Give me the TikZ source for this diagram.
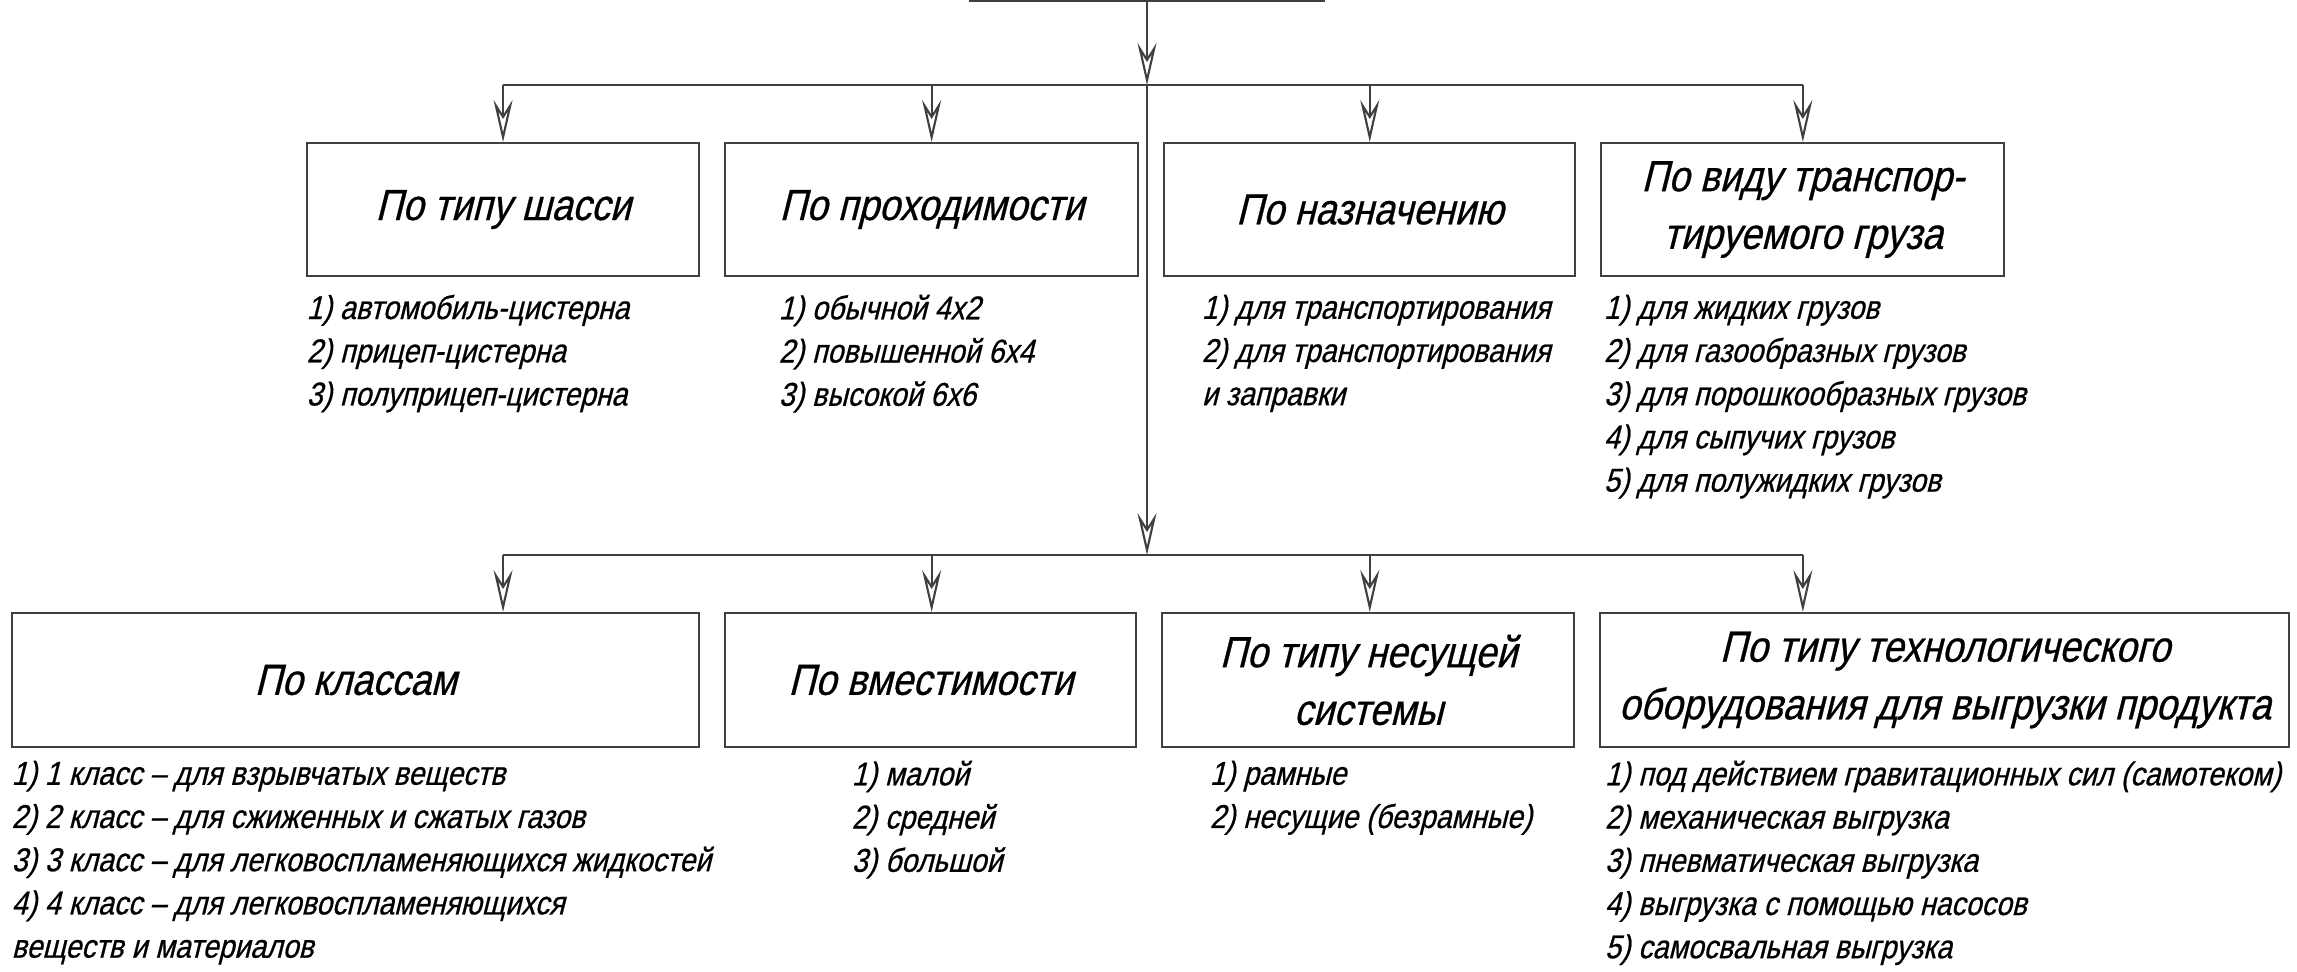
\documentclass[tikz,border=0pt]{standalone}
\usepackage{fontspec}
\setmainfont{Liberation Sans}[FakeStretch=0.86, FakeSlant=0.25, FakeBold=0.6]
\usepackage{tikz}
\usetikzlibrary{positioning, arrows.meta}
\tikzset{
    crit box/.style={rectangle, draw=black!75, line width=0.6pt, minimum height=1.33cm, align=center, inner sep=0pt, font=\fontsize{12.4}{16.4}\selectfont},
    item list/.style={align=left, inner sep=0pt, font=\fontsize{9.4}{12.3}\selectfont},
}

\begin{document}
\begin{tikzpicture}[x=0.1mm, y=-0.1mm, node distance=2.4mm]
\useasboundingbox (0,0) rectangle (2297,972);
% top box (cut by the page edge)
\node[crit box, minimum width=3.53cm, minimum height=1.5cm, anchor=south] (root) at (1147,2) {};
\coordinate (bus1) at (1147,85);
\coordinate (bus2) at (1147,555);
% first row
\node[crit box, minimum width=3.92cm, anchor=north west] (b1) at (306,142) {По типу шасси};
\node[crit box, minimum width=4.13cm, right=of b1] (b2) {По проходимости};
\node[crit box, minimum width=4.11cm, right=of b2] (b3) {По назначению};
\node[crit box, minimum width=4.03cm, right=of b3] (b4) {По виду транспор-\\тируемого груза};
\node[item list, below right=1.7mm and 0mm of b1.south west] (l1) {1) автомобиль-цистерна\\2) прицеп-цистерна\\3) полуприцеп-цистерна};
\node[item list, below right=1.7mm and 5.4mm of b2.south west] (l2) {1) обычной 4х2\\2) повышенной 6х4\\3) высокой 6х6};
\node[item list, below right=1.7mm and 3.8mm of b3.south west] (l3) {1) для транспортирования\\2) для транспортирования\\и заправки};
\node[item list, below right=1.7mm and 0.3mm of b4.south west] (l4) {1) для жидких грузов\\2) для газообразных грузов\\3) для порошкообразных грузов\\4) для сыпучих грузов\\5) для полужидких грузов};
% second row
\node[crit box, minimum width=6.87cm, minimum height=1.34cm, anchor=north west] (c1) at (11,612) {По классам};
\node[crit box, minimum width=4.11cm, minimum height=1.34cm, right=of c1] (c2) {По вместимости};
\node[crit box, minimum width=4.12cm, minimum height=1.34cm, right=of c2] (c3) {По типу несущей\\системы};
\node[crit box, minimum width=6.89cm, minimum height=1.34cm, right=of c3] (c4) {По типу технологического\\оборудования для выгрузки продукта};
\node[item list, below right=1.2mm and 0mm of c1.south west] (m1) {1) 1 класс – для взрывчатых веществ\\2) 2 класс – для сжиженных и сжатых газов\\3) 3 класс – для легковоспламеняющихся жидкостей\\4) 4 класс – для легковоспламеняющихся\\веществ и материалов};
\node[item list, below right=1.2mm and 12.7mm of c2.south west] (m2) {1) малой\\2) средней\\3) большой};
\node[item list, below right=1.2mm and 4.8mm of c3.south west] (m3) {1) рамные\\2) несущие (безрамные)};
\node[item list, below right=1.2mm and 0.5mm of c4.south west] (m4) {1) под действием гравитационных сил (самотеком)\\2) механическая выгрузка\\3) пневматическая выгрузка\\4) выгрузка с помощью насосов\\5) самосвальная выгрузка};
% connectors
\draw[black!75, line width=0.6pt, -{Stealth[open, length=4.2mm, width=1.9mm, inset=1.5mm]}](root.south)--(bus1);
\draw[black!75, line width=0.6pt, -{Stealth[open, length=4.2mm, width=1.9mm, inset=1.5mm]}](bus1)--(bus2);
\draw[black!75, line width=0.6pt](b1.north |- bus1)--(b4.north |- bus1);
\draw[black!75, line width=0.6pt](b1.north |- bus2)--(b4.north |- bus2);
\foreach \i in {1,...,4}{
  \draw[black!75, line width=0.6pt, -{Stealth[open, length=4.2mm, width=1.9mm, inset=1.5mm]}](b\i.north |- bus1)--(b\i.north);
  \draw[black!75, line width=0.6pt, -{Stealth[open, length=4.2mm, width=1.9mm, inset=1.5mm]}](b\i.north |- bus2)--(c\i.north -| b\i.north);
}
\end{tikzpicture}
\end{document}
